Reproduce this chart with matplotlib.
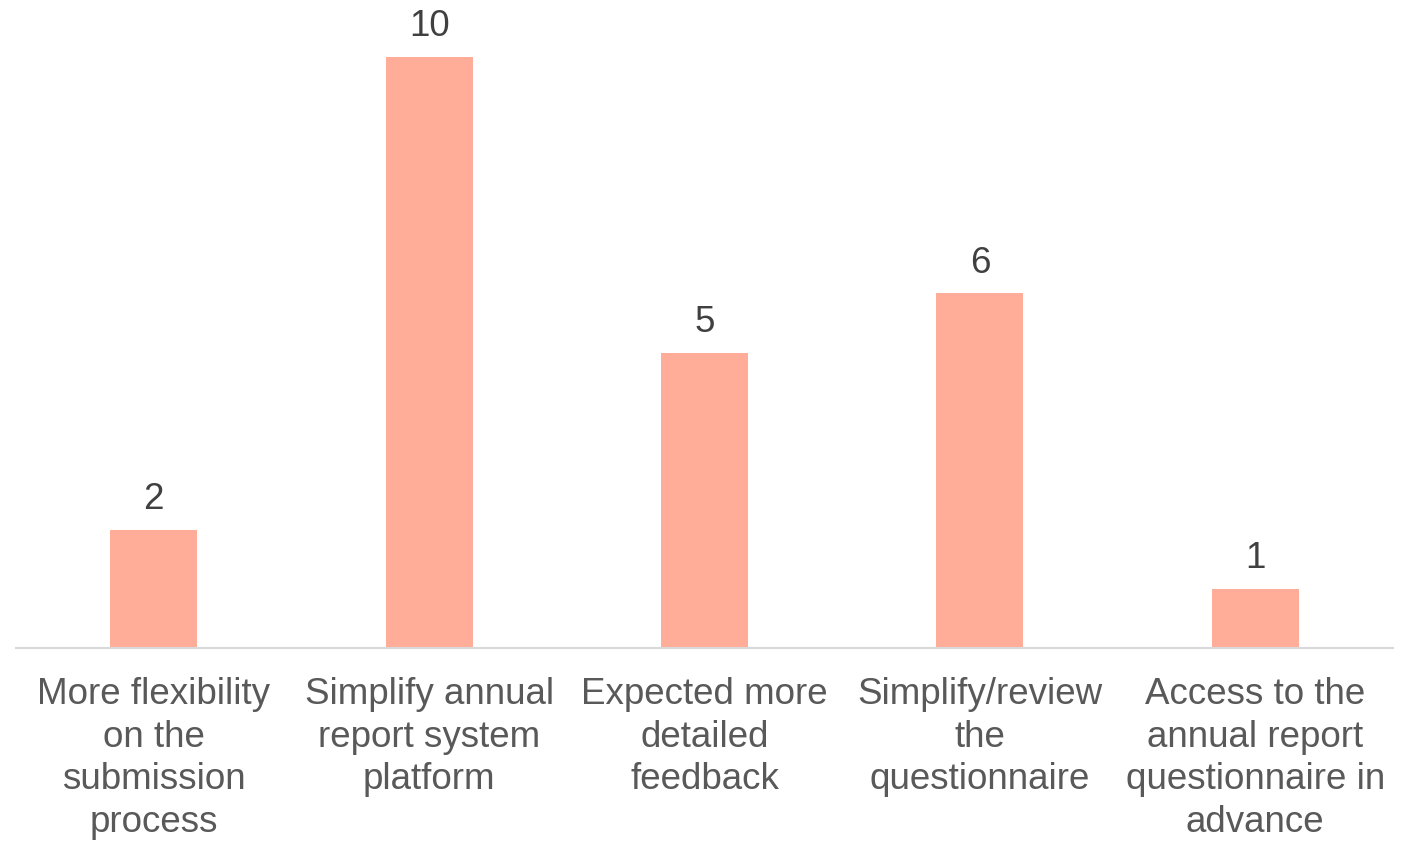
import matplotlib
matplotlib.use("Agg")
import matplotlib.pyplot as plt

categories = [
    "More flexibility\non the\nsubmission\nprocess",
    "Simplify annual\nreport system\nplatform",
    "Expected more\ndetailed\nfeedback",
    "Simplify/review\nthe\nquestionnaire",
    "Access to the\nannual report\nquestionnaire in\nadvance",
]
values = [2, 10, 5, 6, 1]

plt.rcParams['font.family'] = ['Liberation Sans', 'DejaVu Sans']

fig = plt.figure(figsize=(14.19, 8.41), dpi=100)
ax = fig.add_axes([16/1419, (841-648)/841, (1393-16)/1419, (648-57)/841])

x = list(range(len(values)))
bars = ax.bar(x, values, width=0.316, color="#FFAD98", zorder=2)
ax.set_xlim(-0.5, len(values) - 0.5)
ax.set_ylim(0, 10)

for xi, v in zip(x, values):
    ax.annotate(str(v), (xi, v), xytext=(0, 9), textcoords="offset points",
                ha="center", va="bottom", fontsize=26.5, color="#404040",
                annotation_clip=False)

ax.set_xticks(x)
ax.set_xticklabels(categories, fontsize=26.5, color="#595959", linespacing=1.28)
ax.tick_params(axis="x", length=0, pad=21)
ax.set_yticks([])
for s in ["top", "right", "left"]:
    ax.spines[s].set_visible(False)
ax.spines["bottom"].set_color("#D9D9D9")
ax.spines["bottom"].set_linewidth(1.5)

fig.savefig("out.png", dpi=100)
